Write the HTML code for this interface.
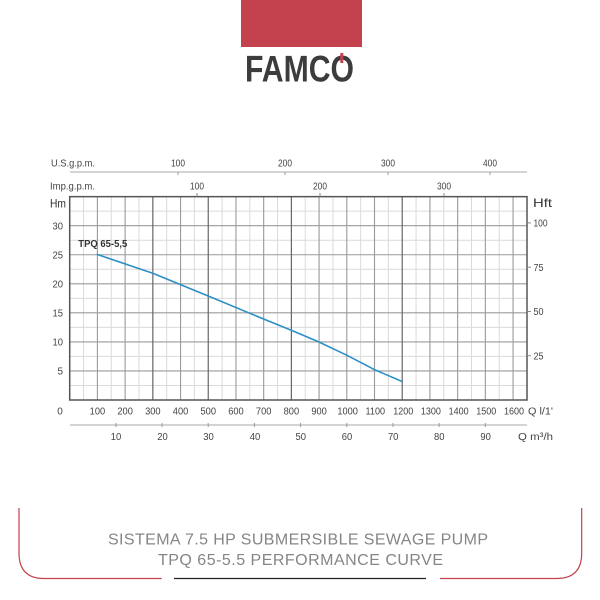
<!DOCTYPE html>
<html><head><meta charset="utf-8"><style>
html,body{margin:0;padding:0;background:#fff;}
svg{display:block;}
text{font-family:"Liberation Sans",sans-serif;}
</style></head><body>
<svg width="600" height="600" viewBox="0 0 600 600" xmlns="http://www.w3.org/2000/svg">
<rect x="0" y="0" width="600" height="600" fill="#fff"/>
<!-- Logo -->
<rect x="241" y="0" width="121" height="47" fill="#c4414e"/>
<text x="245" y="81.5" font-size="37" font-weight="bold" fill="#3c3c3c" textLength="109" lengthAdjust="spacingAndGlyphs">FAMCO</text>
<rect x="340.3" y="53" width="3" height="10" fill="#c4414e"/>

<!-- top US gpm axis -->
<text x="51" y="166.5" font-size="10" fill="#444" textLength="44" lengthAdjust="spacingAndGlyphs">U.S.g.p.m.</text>
<line x1="70" y1="172" x2="527" y2="172" stroke="#aaa" stroke-width="1"/>
<g stroke="#999" stroke-width="1">
<line x1="178" y1="172" x2="178" y2="175"/><line x1="285" y1="172" x2="285" y2="175"/><line x1="388" y1="172" x2="388" y2="175"/><line x1="490" y1="172" x2="490" y2="175"/>
</g>
<g font-size="10" fill="#444" text-anchor="middle">
<text x="178" y="166.5" textLength="14" lengthAdjust="spacingAndGlyphs">100</text>
<text x="285" y="166.5" textLength="14" lengthAdjust="spacingAndGlyphs">200</text>
<text x="388" y="166.5" textLength="14" lengthAdjust="spacingAndGlyphs">300</text>
<text x="490" y="166.5" textLength="14" lengthAdjust="spacingAndGlyphs">400</text>
</g>
<text x="50" y="189.5" font-size="10" fill="#444" textLength="45" lengthAdjust="spacingAndGlyphs">Imp.g.p.m.</text>
<g font-size="10" fill="#444" text-anchor="middle">
<text x="197" y="189.5" textLength="14" lengthAdjust="spacingAndGlyphs">100</text>
<text x="320" y="189.5" textLength="14" lengthAdjust="spacingAndGlyphs">200</text>
<text x="444" y="189.5" textLength="14" lengthAdjust="spacingAndGlyphs">300</text>
</g>

<!-- minor grid -->
<g stroke="#dadada" stroke-width="1">
<line x1="83.55" y1="196.65" x2="83.55" y2="400"/>
<line x1="111.27" y1="196.65" x2="111.27" y2="400"/>
<line x1="138.98" y1="196.65" x2="138.98" y2="400"/>
<line x1="166.69" y1="196.65" x2="166.69" y2="400"/>
<line x1="194.40" y1="196.65" x2="194.40" y2="400"/>
<line x1="222.11" y1="196.65" x2="222.11" y2="400"/>
<line x1="249.82" y1="196.65" x2="249.82" y2="400"/>
<line x1="277.53" y1="196.65" x2="277.53" y2="400"/>
<line x1="305.24" y1="196.65" x2="305.24" y2="400"/>
<line x1="332.95" y1="196.65" x2="332.95" y2="400"/>
<line x1="360.66" y1="196.65" x2="360.66" y2="400"/>
<line x1="388.37" y1="196.65" x2="388.37" y2="400"/>
<line x1="416.08" y1="196.65" x2="416.08" y2="400"/>
<line x1="443.79" y1="196.65" x2="443.79" y2="400"/>
<line x1="471.50" y1="196.65" x2="471.50" y2="400"/>
<line x1="499.21" y1="196.65" x2="499.21" y2="400"/>
<line x1="69.7" y1="385.48" x2="527" y2="385.48"/>
<line x1="69.7" y1="356.43" x2="527" y2="356.43"/>
<line x1="69.7" y1="327.38" x2="527" y2="327.38"/>
<line x1="69.7" y1="298.33" x2="527" y2="298.33"/>
<line x1="69.7" y1="269.28" x2="527" y2="269.28"/>
<line x1="69.7" y1="240.23" x2="527" y2="240.23"/>
<line x1="69.7" y1="211.18" x2="527" y2="211.18"/>
</g>
<!-- major grid -->
<g stroke="#9a9a9a" stroke-width="1.1">
<line x1="97.41" y1="196.65" x2="97.41" y2="400"/>
<line x1="125.12" y1="196.65" x2="125.12" y2="400"/>
<line x1="180.54" y1="196.65" x2="180.54" y2="400"/>
<line x1="235.96" y1="196.65" x2="235.96" y2="400"/>
<line x1="263.67" y1="196.65" x2="263.67" y2="400"/>
<line x1="319.09" y1="196.65" x2="319.09" y2="400"/>
<line x1="346.8" y1="196.65" x2="346.8" y2="400"/>
<line x1="374.51" y1="196.65" x2="374.51" y2="400"/>
<line x1="429.93" y1="196.65" x2="429.93" y2="400"/>
<line x1="457.64" y1="196.65" x2="457.64" y2="400"/>
<line x1="485.35" y1="196.65" x2="485.35" y2="400"/>
<line x1="513.06" y1="196.65" x2="513.06" y2="400"/>
<line x1="69.7" y1="370.95" x2="527" y2="370.95"/>
<line x1="69.7" y1="341.9" x2="527" y2="341.9"/>
<line x1="69.7" y1="312.85" x2="527" y2="312.85"/>
<line x1="69.7" y1="283.8" x2="527" y2="283.8"/>
<line x1="69.7" y1="254.75" x2="527" y2="254.75"/>
<line x1="69.7" y1="225.7" x2="527" y2="225.7"/>
</g>
<g stroke="#666" stroke-width="1.2">
<line x1="152.83" y1="196.65" x2="152.83" y2="400"/>
<line x1="208.25" y1="196.65" x2="208.25" y2="400"/>
<line x1="291.38" y1="196.65" x2="291.38" y2="400"/>
<line x1="402.22" y1="196.65" x2="402.22" y2="400"/>
</g>
<rect x="69.7" y="196.65" width="457.3" height="203.35" fill="none" stroke="#555" stroke-width="1.5"/>
<!-- imp ticks -->
<g stroke="#888" stroke-width="1">
<line x1="197" y1="193" x2="197" y2="196.6"/><line x1="320" y1="193" x2="320" y2="196.6"/><line x1="444" y1="193" x2="444" y2="196.6"/>
</g>

<!-- left axis -->
<text x="50" y="207.5" font-size="12" fill="#333" textLength="16" lengthAdjust="spacingAndGlyphs">Hm</text>
<g font-size="10" fill="#444" text-anchor="end">
<text x="63" y="229.4" textLength="10.5" lengthAdjust="spacingAndGlyphs">30</text>
<text x="63" y="258.4" textLength="10.5" lengthAdjust="spacingAndGlyphs">25</text>
<text x="63" y="287.5" textLength="10.5" lengthAdjust="spacingAndGlyphs">20</text>
<text x="63" y="316.5" textLength="10.5" lengthAdjust="spacingAndGlyphs">15</text>
<text x="63" y="345.6" textLength="10.5" lengthAdjust="spacingAndGlyphs">10</text>
<text x="63" y="374.6">5</text>
</g>
<!-- right axis -->
<text x="533" y="207" font-size="12" fill="#333" textLength="19" lengthAdjust="spacingAndGlyphs">Hft</text>
<g stroke="#888" stroke-width="1">
<line x1="527" y1="222.9" x2="531" y2="222.9"/><line x1="527" y1="267.2" x2="531" y2="267.2"/><line x1="527" y1="311.5" x2="531" y2="311.5"/><line x1="527" y1="355.7" x2="531" y2="355.7"/>
</g>
<g font-size="10" fill="#444">
<text x="533.5" y="226.5" textLength="14" lengthAdjust="spacingAndGlyphs">100</text>
<text x="533.5" y="270.8" textLength="10" lengthAdjust="spacingAndGlyphs">75</text>
<text x="533.5" y="315.1" textLength="10" lengthAdjust="spacingAndGlyphs">50</text>
<text x="533.5" y="359.3" textLength="10" lengthAdjust="spacingAndGlyphs">25</text>
</g>

<!-- bottom l/min labels -->
<g font-size="10" fill="#444" text-anchor="middle">
<text x="60" y="414.5">0</text>
<text x="97.41" y="414.5" textLength="15.5" lengthAdjust="spacingAndGlyphs">100</text>
<text x="125.12" y="414.5" textLength="15.5" lengthAdjust="spacingAndGlyphs">200</text>
<text x="152.83" y="414.5" textLength="15.5" lengthAdjust="spacingAndGlyphs">300</text>
<text x="180.54" y="414.5" textLength="15.5" lengthAdjust="spacingAndGlyphs">400</text>
<text x="208.25" y="414.5" textLength="15.5" lengthAdjust="spacingAndGlyphs">500</text>
<text x="235.96" y="414.5" textLength="15.5" lengthAdjust="spacingAndGlyphs">600</text>
<text x="263.67" y="414.5" textLength="15.5" lengthAdjust="spacingAndGlyphs">700</text>
<text x="291.38" y="414.5" textLength="15.5" lengthAdjust="spacingAndGlyphs">800</text>
<text x="319.09" y="414.5" textLength="15.5" lengthAdjust="spacingAndGlyphs">900</text>
<text x="347.6" y="414.5" textLength="20.5" lengthAdjust="spacingAndGlyphs">1000</text>
<text x="375.3" y="414.5" textLength="19.5" lengthAdjust="spacingAndGlyphs">1100</text>
<text x="403.3" y="414.5" textLength="20" lengthAdjust="spacingAndGlyphs">1200</text>
<text x="430.9" y="414.5" textLength="20" lengthAdjust="spacingAndGlyphs">1300</text>
<text x="458.6" y="414.5" textLength="20" lengthAdjust="spacingAndGlyphs">1400</text>
<text x="486.3" y="414.5" textLength="20" lengthAdjust="spacingAndGlyphs">1500</text>
<text x="514" y="414.5" textLength="20" lengthAdjust="spacingAndGlyphs">1600</text>
</g>
<text x="528" y="414.5" font-size="10" fill="#444" textLength="25" lengthAdjust="spacingAndGlyphs">Q l/1'</text>

<!-- m3/h axis -->
<line x1="70" y1="425" x2="527" y2="425" stroke="#aaa" stroke-width="1"/>
<g stroke="#999" stroke-width="1">
<line x1="115.9" y1="423" x2="115.9" y2="427"/><line x1="162.1" y1="423" x2="162.1" y2="427"/><line x1="208.2" y1="423" x2="208.2" y2="427"/><line x1="254.4" y1="423" x2="254.4" y2="427"/><line x1="300.6" y1="423" x2="300.6" y2="427"/><line x1="346.8" y1="423" x2="346.8" y2="427"/><line x1="393" y1="423" x2="393" y2="427"/><line x1="439.1" y1="423" x2="439.1" y2="427"/><line x1="485.3" y1="423" x2="485.3" y2="427"/>
</g>
<g font-size="10" fill="#444" text-anchor="middle">
<text x="116" y="440" textLength="10.5" lengthAdjust="spacingAndGlyphs">10</text>
<text x="162.5" y="440" textLength="10.5" lengthAdjust="spacingAndGlyphs">20</text>
<text x="208.5" y="440" textLength="10.5" lengthAdjust="spacingAndGlyphs">30</text>
<text x="255" y="440" textLength="10.5" lengthAdjust="spacingAndGlyphs">40</text>
<text x="300.8" y="440" textLength="10.5" lengthAdjust="spacingAndGlyphs">50</text>
<text x="347" y="440" textLength="10.5" lengthAdjust="spacingAndGlyphs">60</text>
<text x="393.2" y="440" textLength="10.5" lengthAdjust="spacingAndGlyphs">70</text>
<text x="439.3" y="440" textLength="10.5" lengthAdjust="spacingAndGlyphs">80</text>
<text x="485.6" y="440" textLength="10.5" lengthAdjust="spacingAndGlyphs">90</text>
</g>
<text x="518" y="440" font-size="10" fill="#444" textLength="35" lengthAdjust="spacingAndGlyphs">Q m³/h</text>

<!-- curve -->
<text x="78.3" y="247" font-size="10" font-weight="bold" fill="#333" textLength="49" lengthAdjust="spacingAndGlyphs">TPQ 65-5,5</text>
<polyline fill="none" stroke="#2b8fc6" stroke-width="1.6" stroke-linejoin="round" points="96.7,254.3 152.8,273.3 208.2,296 263.6,319 291.3,330.2 319,342 346.7,355.2 374.4,369.6 402.1,381.5"/>

<!-- footer frame -->
<path d="M19 508 V553 Q19 578.5 44 578.5 H161.7" fill="none" stroke="#c4414e" stroke-width="1.2"/>
<path d="M581.7 508 V553 Q581.7 578.5 556.7 578.5 H440" fill="none" stroke="#c4414e" stroke-width="1.2"/>
<line x1="174" y1="578.5" x2="426" y2="578.5" stroke="#222" stroke-width="1.2"/>
<text x="108" y="544.3" font-size="16" fill="#858585" textLength="380" lengthAdjust="spacing">SISTEMA 7.5 HP SUBMERSIBLE SEWAGE PUMP</text>
<text x="158" y="565" font-size="16" fill="#858585" textLength="285" lengthAdjust="spacing">TPQ 65-5.5 PERFORMANCE CURVE</text>
</svg>
</body></html>
